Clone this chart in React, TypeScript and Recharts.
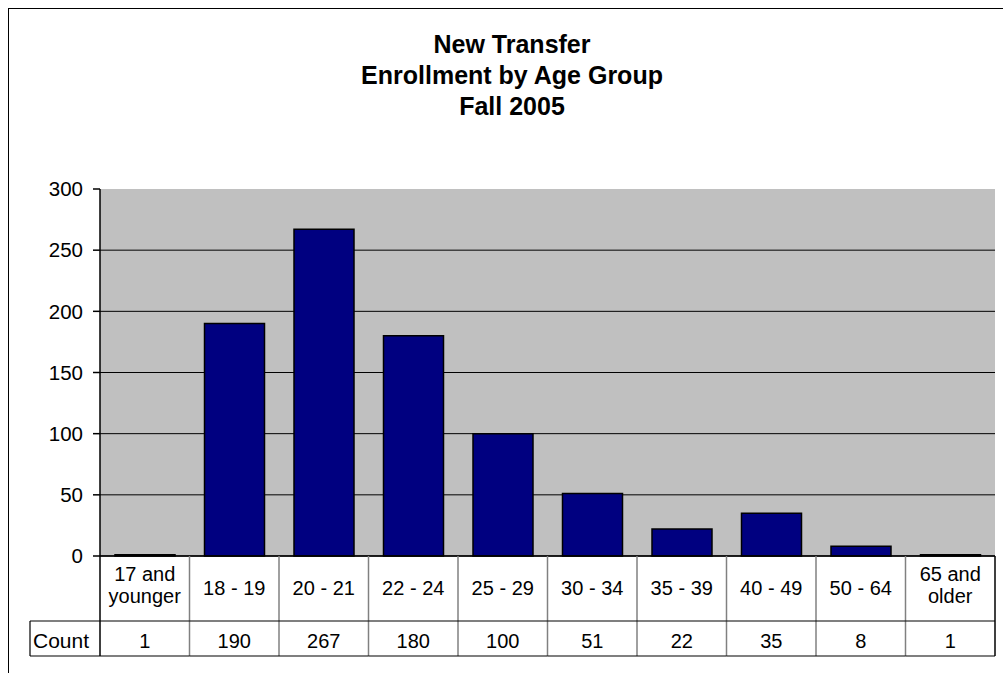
import React from 'react';
import { Bar, BarChart, CartesianGrid, XAxis, YAxis } from 'recharts';

const categories = [
  '17 and\nyounger',
  '18 - 19',
  '20 - 21',
  '22 - 24',
  '25 - 29',
  '30 - 34',
  '35 - 39',
  '40 - 49',
  '50 - 64',
  '65 and\nolder',
];
const counts = [1, 190, 267, 180, 100, 51, 22, 35, 8, 1];
const yTicks = [0, 50, 100, 150, 200, 250, 300];
const gridValues = [0, 50, 100, 150, 200, 250];
const titleLines = ['New Transfer', 'Enrollment by Age Group', 'Fall 2005'];
const seriesName = 'Count';

const chartData = categories.map((cat, i) => ({ cat, count: counts[i] }));

const FONT = '"Liberation Sans", Arial, sans-serif';
const PLOT_LEFT = 100;
const PLOT_RIGHT = 995;
const BAND = (PLOT_RIGHT - PLOT_LEFT) / categories.length;
const HEAD_H = 65;
const ROW_H = 35;

// draws one column of the data table under the plot
function TableTick(props: any) {
  const { x, y, payload, index } = props;
  const hw = BAND / 2;
  const lines = String(payload.value).split('\n');
  const last = index === categories.length - 1;
  return (
    <g>
      <line x1={x + hw} y1={y} x2={x + hw} y2={y + HEAD_H + ROW_H} stroke={last ? '#000' : '#808080'} strokeWidth={1.5} />
      <line x1={x - hw} y1={y + HEAD_H} x2={x + hw} y2={y + HEAD_H} stroke="#000" strokeWidth={1.2} />
      <line x1={x - hw} y1={y + HEAD_H + ROW_H} x2={x + hw} y2={y + HEAD_H + ROW_H} stroke="#000" strokeWidth={1.2} />
      {lines.length === 1 ? (
        <text x={x} y={y + 39} textAnchor="middle" fontSize={20} fontFamily={FONT} fill="#000">
          {lines[0]}
        </text>
      ) : (
        lines.map((l, k) => (
          <text key={k} x={x} y={y + 25 + k * 22} textAnchor="middle" fontSize={20} fontFamily={FONT} fill="#000">
            {l}
          </text>
        ))
      )}
      <text x={x} y={y + HEAD_H + 27} textAnchor="middle" fontSize={20} fontFamily={FONT} fill="#000">
        {counts[index]}
      </text>
      {index === 0 && (
        <g>
          <line x1={x - hw} y1={y} x2={x - hw} y2={y + HEAD_H + ROW_H} stroke="#000" strokeWidth={1.5} />
          <line x1={30} y1={y + HEAD_H} x2={x - hw} y2={y + HEAD_H} stroke="#000" strokeWidth={1.2} />
          <line x1={30} y1={y + HEAD_H + ROW_H} x2={x - hw} y2={y + HEAD_H + ROW_H} stroke="#000" strokeWidth={1.2} />
          <line x1={30} y1={y + HEAD_H} x2={30} y2={y + HEAD_H + ROW_H} stroke="#000" strokeWidth={1.2} />
          <text x={33} y={y + HEAD_H + 27} fontSize={21} fontFamily={FONT} fill="#000">
            {seriesName}
          </text>
        </g>
      )}
    </g>
  );
}

export default function App() {
  return (
    <div
      style={{
        position: 'fixed',
        left: 0,
        top: 0,
        width: 1003,
        height: 673,
        overflow: 'hidden',
        background: '#fff',
      }}
    >
      <div
        style={{
          position: 'absolute',
          left: 8,
          top: 8,
          width: 1100,
          height: 800,
          border: '1px solid #000',
        }}
      />
      <div
        style={{
          position: 'absolute',
          left: 212,
          top: 29,
          width: 600,
          textAlign: 'center',
          fontFamily: FONT,
          fontWeight: 'bold',
          fontSize: 25,
          lineHeight: '31px',
          color: '#000',
        }}
      >
        {titleLines.map((t) => (
          <div key={t}>{t}</div>
        ))}
      </div>
      <div style={{ position: 'absolute', left: 0, top: 0 }}>
        <BarChart
          width={1003}
          height={673}
          data={chartData}
          margin={{ top: 189, right: 8, bottom: 17, left: 40 }}
        >
          <CartesianGrid
            xAxisId="main"
            yAxisId="main"
            vertical={false}
            horizontalValues={gridValues}
            stroke="#000"
            strokeWidth={1}
            fill="#C0C0C0"
            fillOpacity={1}
          />
          <XAxis
            xAxisId="main"
            dataKey="cat"
            height={100}
            interval={0}
            tickSize={0}
            tickMargin={0}
            tickLine={false}
            stroke="#000"
            strokeWidth={1.5}
            tick={<TableTick />}
          />
          <XAxis
            xAxisId="top"
            dataKey="cat"
            orientation="top"
            height={0}
            tick={false}
            tickLine={false}
            stroke="#808080"
            strokeWidth={2.5}
          />
          <YAxis
            yAxisId="main"
            domain={[0, 300]}
            ticks={yTicks}
            width={60}
            interval={0}
            tickSize={7}
            tickMargin={10}
            stroke="#000"
            strokeWidth={1.5}
            tick={{ fill: '#000', fontSize: 20.5, fontFamily: FONT }}
          />
          <YAxis
            yAxisId="right"
            orientation="right"
            domain={[0, 300]}
            width={0}
            tick={false}
            tickLine={false}
            stroke="#808080"
            strokeWidth={2.5}
          />
          <Bar
            xAxisId="main"
            yAxisId="main"
            dataKey="count"
            barSize={60}
            fill="#000080"
            stroke="#000"
            strokeWidth={1.5}
            isAnimationActive={false}
          />
        </BarChart>
      </div>
    </div>
  );
}
